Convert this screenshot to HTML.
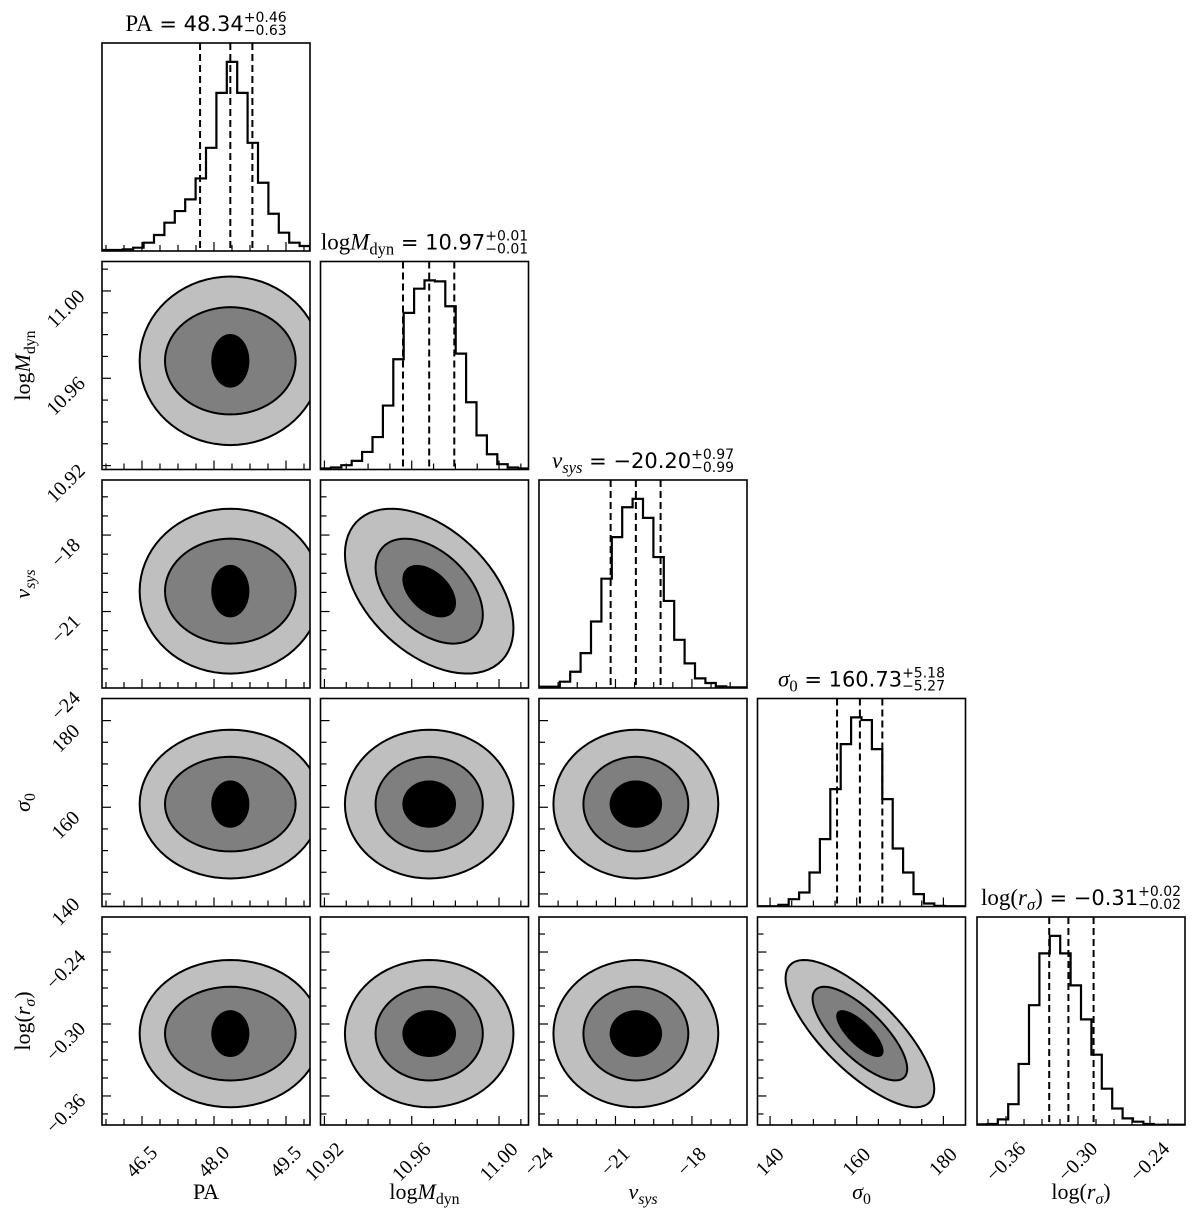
<!DOCTYPE html>
<html><head><meta charset="utf-8"><style>
html,body{margin:0;padding:0;background:#fff;}
svg{display:block;}
</style></head><body>
<svg id="fig" width="1200" height="1226" viewBox="0 0 1200 1226" xmlns="http://www.w3.org/2000/svg"></svg>
<script>
// ---- data ----
const paramKeys = ['PA','logM','vsys','sigma','logr'];
const rangeLo = [45.667, 10.9182, -24.0, 137.1, -0.3842];
const rangeHi = [50.0, 11.0135, -15.84, 185.1, -0.2108];
const majorTicks = [[46.5,48.0,49.5],[10.92,10.96,11.00],[-24,-21,-18],[140,160,180],[-0.36,-0.30,-0.24]];
const majorLabels = [['46.5','48.0','49.5'],['10.92','10.96','11.00'],['\u221224','\u221221','\u221218'],['140','160','180'],['\u22120.36','\u22120.30','\u22120.24']];
const minorStep = [0.375, 0.01, 0.75, 5, 0.015];
const q16 = [47.71, 10.956, -21.19, 155.46, -0.324];
const q50 = [48.34, 10.968, -20.20, 160.73, -0.308];
const q84 = [48.80, 10.9795, -19.23, 165.91, -0.287];
const histPA = [3,3,5,10,25,48,85,120,155,218,310,475,568,475,325,205,112,55,25,15];
const histLogM = [3,6,13,26,53,98,193,333,473,546,571,568,493,350,203,103,46,16,6,3];
const histVsys = [4,4,19,49,105,200,329,454,544,569,512,394,262,145,74,29,15,5,2,2];
const histSigma = [1,1,5,22,42,102,202,352,487,567,559,472,322,174,102,37,9,2,1,1];
const histLogr = [2,3,17,63,185,363,520,573,520,423,320,213,110,50,20,10,3,1,1,1];
const spread2d = [0.54, 0.0117, 0.98, 5.2, 0.0186];
const levelRadii = [1.05, 2.1, 3.3];
const levelScalePA = [0.7, 1.2, 1.06];
const corrPairs = [[1,2,-0.45],[3,4,-0.75]];
const titleName = ['PA','logM_dyn','v_sys','σ_0','log(r_σ)'];
const titleValue = ['48.34','10.97','\u221220.20','160.73','\u22120.31'];
const titlePlus = ['+0.46','+0.01','+0.97','+5.18','+0.02'];
const titleMinus = ['\u22120.63','\u22120.01','\u22120.99','\u22125.27','\u22120.02'];

// ---- layout ----
const colLeft = [102, 320.5, 539, 757.5, 977];
const rowTop = [43, 261.5, 480, 698.5, 917];
const S = 208;
const NS = 'http://www.w3.org/2000/svg';
const svg = document.getElementById('fig');
const hists = [histPA, histLogM, histVsys, histSigma, histLogr];

function el(tag, attrs, parent){ const e=document.createElementNS(NS,tag); for(const k in attrs) e.setAttribute(k,attrs[k]); (parent||svg).appendChild(e); return e; }
function xPix(i,v){ return colLeft[i] + (v-rangeLo[i])/(rangeHi[i]-rangeLo[i])*S; }
function yPix(r,v){ return rowTop[r] + S - (v-rangeLo[r])/(rangeHi[r]-rangeLo[r])*S; }
function getCorr(a,b){ for(const p of corrPairs){ if((p[0]===a&&p[1]===b)||(p[0]===b&&p[1]===a)) return p[2]; } return 0; }
function levScale(i,k){ return i===0 ? levelScalePA[k] : 1; }

function addLabelText(parent, name, x, y, size, anchor){
  const t = el('text',{x:x,y:y,'font-family':'"Liberation Serif", serif','font-size':size,'text-anchor':anchor||'middle'},parent);
  const parts = {'PA':[['PA','n']],'logM_dyn':[['log','n'],['M','i'],['dyn','s']],'v_sys':[['v','i'],['sys','si']],'σ_0':[['σ','i'],['0','s']],'log(r_σ)':[['log(','n'],['r','i'],['σ','si'],[')','n']]}[name];
  let sub=false;
  for(const p of parts){
    const ts = el('tspan',{},t);
    ts.textContent = p[0];
    if(p[1]==='i'||p[1]==='si') ts.setAttribute('font-style','italic');
    if(p[1]==='s'||p[1]==='si'){ ts.setAttribute('font-size', size*0.72); if(!sub){ts.setAttribute('dy', size*0.22); sub=true;} }
    else if(sub){ ts.setAttribute('dy', -size*0.22); sub=false; }
  }
  return {t:t, sub:sub};
}

for(let r=0;r<5;r++){
  for(let c=0;c<=r;c++){
    const g = el('g',{});
    const x0=colLeft[c], y0=rowTop[r];
    const clipId='clip'+r+'_'+c;
    const cp = el('clipPath',{id:clipId},g); el('rect',{x:x0,y:y0,width:S,height:S},cp);
    if(r===c){
      
      
      const h=hists[c]; const mx=Math.max(...h)*1.1; const n=h.length;
      let d='M'+x0+','+(y0+S);
      for(let k=0;k<n;k++){
        const xa=x0+k*S/n, xb=x0+(k+1)*S/n, yy=y0+S-h[k]/mx*S;
        d+=' L'+xa+','+yy+' L'+xb+','+yy;
      }
      d+=' L'+(x0+S)+','+(y0+S);
      const hp=el('path',{d:d,fill:'none',stroke:'#000','stroke-width':2.2,'clip-path':'url(#'+clipId+')'},g);
      
      
      for(const q of [q16[c],q50[c],q84[c]]){
        const xq=xPix(c,q);
        const ql=el('line',{x1:xq,y1:y0,x2:xq,y2:y0+S,stroke:'#000','stroke-width':2,'stroke-dasharray':'7,4'},g);
        
        
      }
      const cx=x0+S/2, ty=y0-12;
      const tg=el('g',{},g);
      
      
      const res=addLabelText(tg,titleName[c],0,ty,23,'start');
      const mt=res.t;
      const vs=el('tspan',{'font-family':'"DejaVu Sans", sans-serif','font-size':21,'font-style':'normal'},mt);
      if(res.sub) vs.setAttribute('dy', -23*0.22);
      vs.textContent=' = '+titleValue[c];
      const sp=el('text',{x:0,y:ty-9,'font-family':'"DejaVu Sans", sans-serif','font-size':14},tg); sp.textContent=titlePlus[c];
      const sb=el('text',{x:0,y:ty+4,'font-family':'"DejaVu Sans", sans-serif','font-size':14},tg); sb.textContent=titleMinus[c];
      const w1=mt.getComputedTextLength(), w2=Math.max(sp.getComputedTextLength(),sb.getComputedTextLength());
      const sx=cx-(w1+w2)/2;
      mt.setAttribute('x',sx); sp.setAttribute('x',sx+w1); sb.setAttribute('x',sx+w1);
    } else {
      
      
      const rho=getCorr(c,r);
      const fills=['#bfbfbf','#7f7f7f','#000000'];
      for(let k=2;k>=0;k--){
        const rad=levelRadii[k];
        const sxv=spread2d[c]*rad*levScale(c,k), syv=spread2d[r]*rad*levScale(r,k);
        let d='';
        for(let s=0;s<=72;s++){
          const t=s/72*2*Math.PI;
          const vx=q50[c]+sxv*Math.cos(t);
          const vy=q50[r]+syv*(rho*Math.cos(t)+Math.sqrt(1-rho*rho)*Math.sin(t));
          d+=(s?' L':'M')+xPix(c,vx).toFixed(2)+','+yPix(r,vy).toFixed(2);
        }
        const p=el('path',{d:d+'Z',fill:fills[2-k],stroke:'#000','stroke-width':k===0?0:2,'clip-path':'url(#'+clipId+')'},g);
        
        
      }
    }
    const tk=el('g',{stroke:'#000','stroke-width':1.2},g);
    
    
    const st=minorStep[c];
    for(let v=Math.ceil(rangeLo[c]/st-1e-6)*st; v<=rangeHi[c]+1e-9; v+=st){
      const isMaj=majorTicks[c].some(m=>Math.abs(m-v)<st*0.1);
      const xv=xPix(c,v); if(xv<x0+1||xv>x0+S-1) continue;
      el('line',{x1:xv,y1:y0+S,x2:xv,y2:y0+S-(isMaj?9:6)},tk);
    }
    if(r!==c){
      const sr=minorStep[r];
      for(let v=Math.ceil(rangeLo[r]/sr-1e-6)*sr; v<=rangeHi[r]+1e-9; v+=sr){
        const isMaj=majorTicks[r].some(m=>Math.abs(m-v)<sr*0.1);
        const yv=yPix(r,v); if(yv<y0+1||yv>y0+S-1) continue;
        el('line',{x1:x0,y1:yv,x2:x0+(isMaj?9:6),y2:yv},tk);
      }
    }
    const fr=el('rect',{x:x0,y:y0,width:S,height:S,fill:'none',stroke:'#000','stroke-width':1.6},g);
    
    
  }
}
for(let c=0;c<5;c++){
  const by=rowTop[4]+S;
  majorTicks[c].forEach((m,k)=>{
    const xv=xPix(c,m), yc=by+37;
    const t=el('text',{x:xv,y:yc,'font-family':'"Liberation Serif", serif','font-size':20,'text-anchor':'middle','dominant-baseline':'central',transform:'rotate(-45 '+xv+' '+yc+')'});
    
    
    t.textContent=majorLabels[c][k];
  });
  const xl=addLabelText(svg,titleName[c],colLeft[c]+S/2,1199,22,'middle').t;
  
  
}
for(let r=1;r<5;r++){
  majorTicks[r].forEach((m,k)=>{
    const yv=yPix(r,m)+18, xc=colLeft[0]-36;
    const t=el('text',{x:xc,y:yv,'font-family':'"Liberation Serif", serif','font-size':20,'text-anchor':'middle','dominant-baseline':'central',transform:'rotate(-45 '+xc+' '+yv+')'});
    
    
    t.textContent=majorLabels[r][k];
  });
  const cy=rowTop[r]+S/2;
  const g=el('g',{transform:'translate(30 '+cy+') rotate(-90)'});
  
  
  addLabelText(g,titleName[r],0,0,22,'middle');
}
</script>
</body></html>
